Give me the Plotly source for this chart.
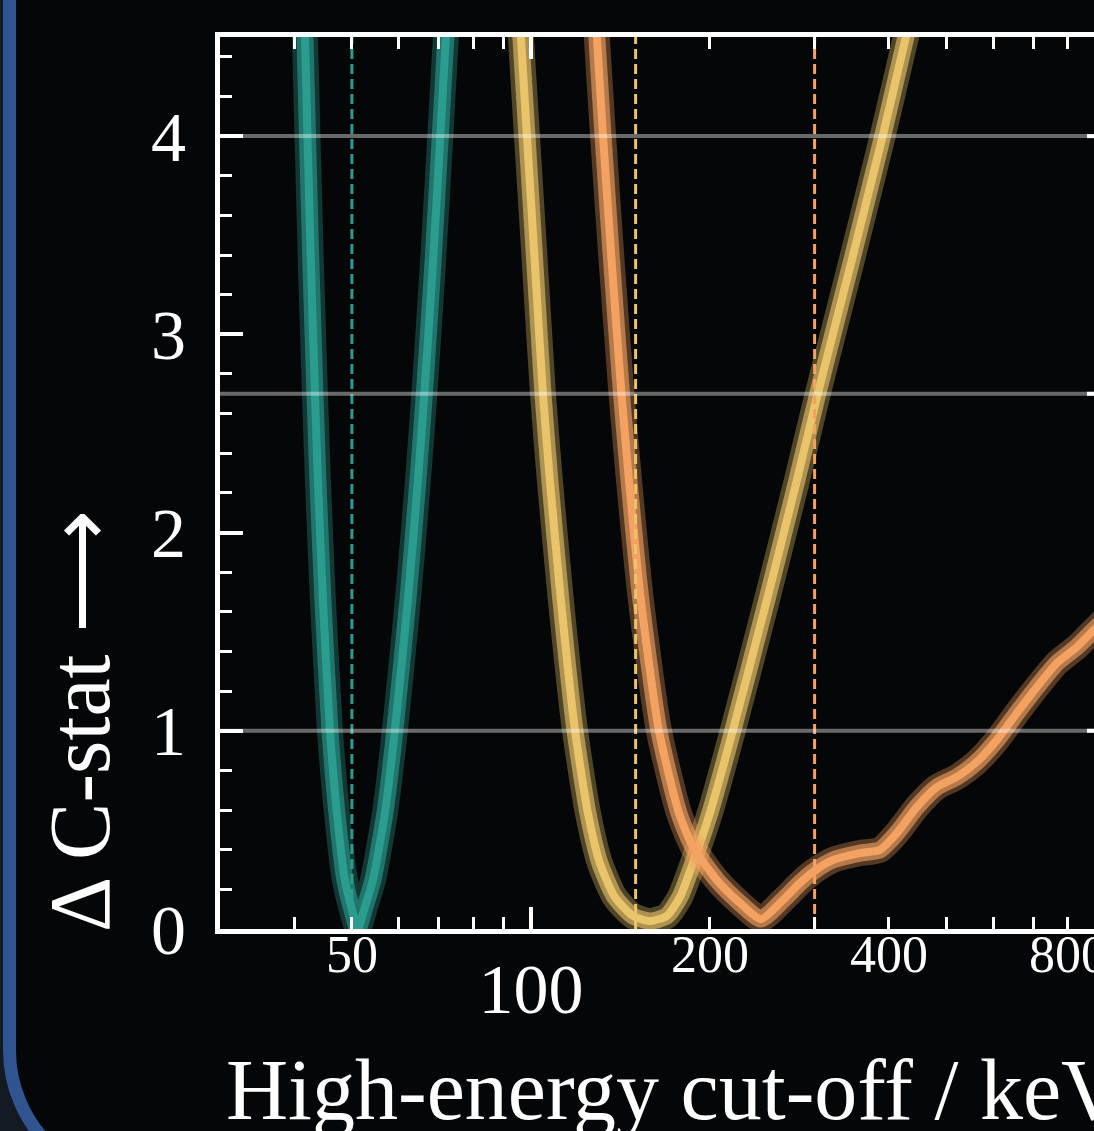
import math
import plotly.graph_objects as go

# ---------------- data ----------------
teal_x = [41.4, 41.69, 42.09, 42.66, 43.33, 43.83, 44.69, 45.92, 47.18, 48.66, 50.39, 51.17,
          52.58, 54.24, 56.82, 59.06, 62.11, 64.57, 66.21, 68.42, 70.43, 71.95, 72.6]
teal_y = [4.70, 4.50, 4.006, 3.355, 2.704, 2.265, 1.660, 1.004, 0.585, 0.247, 0.061, 0.0,
          0.111, 0.247, 0.585, 1.004, 1.660, 2.265, 2.704, 3.355, 4.006, 4.50, 4.70]

yellow_x = [95.4, 96.2, 98.46, 101.56, 104.76, 107.6, 112.3, 118.6, 124.7, 130.6, 138.4, 148.4, 158.5, 169.3,
            178.1, 187.3, 200.0, 218.7, 249.4, 280.2, 303.9, 345.2, 390.9, 427.2, 443.0]
yellow_y = [4.70, 4.50, 4.006, 3.355, 2.704, 2.265, 1.660, 1.004, 0.585, 0.333, 0.161, 0.066, 0.040, 0.066,
            0.161, 0.333, 0.585, 1.004, 1.660, 2.265, 2.704, 3.355, 4.006, 4.50, 4.70]

orange_x = [128.0, 129.1, 132.2, 136.8, 142.0, 146.2, 153.1, 164.1, 177.4, 187.3, 205.5, 224.7, 243.7,
            265.4, 283.4, 298.1, 322.0, 357.5, 386.4, 412.6, 445.9, 481.8, 520.5, 562.4, 607.8, 656.9,
            709.6, 766.8, 828.5, 884.9, 950.0]
orange_y = [4.70, 4.50, 4.006, 3.355, 2.704, 2.265, 1.660, 1.004, 0.585, 0.414, 0.247, 0.131, 0.050,
            0.146, 0.232, 0.288, 0.348, 0.383, 0.399, 0.484, 0.616, 0.716, 0.767, 0.843, 0.954, 1.090,
            1.221, 1.342, 1.423, 1.509, 1.60]

best_fit = [50, 150, 300]          # dashed vertical markers (teal, yellow, orange)
ref_levels = [1.0, 2.7, 4.0]       # horizontal reference levels

x_minor_ticks = [40, 50, 60, 70, 80, 90, 200, 300, 400, 500, 600, 700, 800, 900]
x_minor_text = ["", "50", "", "", "", "", "200", "", "400", "", "", "", "800", ""]
x_major_ticks = [100]
x_major_text = ["100"]
y_ticks = [0, 1, 2, 3, 4]

# ---------------- styling ----------------
TEAL, YELLOW, ORANGE = "#2a9d8f", "#e9c46a", "#f4a261"
FONT = "Liberation Serif"
W, H = 1094, 1131
L, R, T, B = 220, 0, 37, 202
PW, PH = W - L - R, H - T - B

def px(xp):
    return (xp - L) / PW

def py(yp):
    return (H - B - yp) / PH

def hex_rgba(h, a):
    h = h.lstrip("#")
    return "rgba(%d,%d,%d,%.3f)" % (int(h[0:2], 16), int(h[2:4], 16), int(h[4:6], 16), a)

fig = go.Figure()

curves = [(teal_x, teal_y, TEAL), (yellow_x, yellow_y, YELLOW), (orange_x, orange_y, ORANGE)]
for xs, ys, col in curves:
    for w, a in [(26, 0.33), (17, 0.62), (8, 1.0)]:
        fig.add_trace(go.Scatter(x=xs, y=ys, mode="lines",
                                 line=dict(color=hex_rgba(col, a), width=w, shape="spline", smoothing=0.6),
                                 hoverinfo="skip", showlegend=False))

for xv, col in zip(best_fit, [TEAL, YELLOW, ORANGE]):
    fig.add_trace(go.Scatter(x=[xv, xv], y=[0, 4.5], mode="lines", xaxis="x2",
                             line=dict(color=col, width=3, dash="10px,5px"),
                             hoverinfo="skip", showlegend=False))

# horizontal reference lines
shapes = []
for lv in ref_levels:
    shapes.append(dict(type="line", xref="paper", yref="y", x0=0, x1=1, y0=lv, y1=lv,
                       line=dict(color="rgba(255,255,255,0.40)", width=4), layer="above"))
    shapes.append(dict(type="line", xref="paper", yref="y", x0=px(1087), x1=1.01, y0=lv, y1=lv,
                       line=dict(color="white", width=4), layer="above"))

# blue rounded frame (decoration)
k = 0.5523
Rr = 133
xl, yb, yc = 9.5, 1183, 1050
path = ("M %f,%f L %f,%f C %f,%f %f,%f %f,%f L %f,%f L %f,%f Z" % (
    px(xl), py(-40), px(xl), py(yc),
    px(xl), py(yc + k * Rr), px(xl + Rr - k * Rr), py(yb), px(xl + Rr), py(yb),
    px(1300), py(yb), px(1300), py(-40)))
shapes.append(dict(type="path", xref="paper", yref="paper", path=path,
                   fillcolor="#050607", line=dict(color="#2f5490", width=13), layer="below"))

x_range = [math.log10(30), math.log10(30) + PW / 594.6]

annotations = [
    dict(text="High-energy cut-off / keV", xref="paper", yref="paper", x=px(224), y=py(1090),
         xanchor="left", yanchor="middle", showarrow=False, font=dict(family=FONT, size=86, color="white")),
    dict(text="Δ C-stat ⟶", xref="paper", yref="paper", x=px(80), y=py(934),
         xanchor="center", yanchor="bottom", textangle=-90, showarrow=False,
         font=dict(family=FONT, size=86, color="white")),
]

fig.update_layout(
    width=W, height=H,
    margin=dict(l=L, r=R, t=T, b=B, pad=0, autoexpand=False),
    paper_bgcolor="#141a22", plot_bgcolor="rgba(0,0,0,0)",
    shapes=shapes, annotations=annotations, showlegend=False,
    xaxis=dict(type="log", range=x_range, tickmode="array", tickvals=x_minor_ticks, ticktext=x_minor_text,
               ticks="inside", ticklen=12, tickwidth=3, tickcolor="white",
               showline=True, linewidth=5, linecolor="white", mirror="ticks",
               showgrid=False, zeroline=False, ticklabeloverflow="allow", automargin=False,
               tickfont=dict(family=FONT, size=52, color="white"), ticklabelstandoff=-24),
    xaxis2=dict(type="log", range=x_range, overlaying="x", anchor="y", side="bottom",
                tickmode="array", tickvals=x_major_ticks, ticktext=x_major_text,
                ticks="inside", ticklen=22, tickwidth=4, tickcolor="white",
                showline=True, linewidth=5, linecolor="white", mirror="ticks",
                showgrid=False, zeroline=False, ticklabeloverflow="allow", automargin=False,
                tickfont=dict(family=FONT, size=70, color="white"), ticklabelstandoff=-5),
    yaxis=dict(range=[0, 4.5], tickmode="array", tickvals=y_ticks,
               ticks="inside", ticklen=23, tickwidth=4, tickcolor="white",
               minor=dict(tick0=0, dtick=0.2, ticks="inside", ticklen=12, tickwidth=3, tickcolor="white", showgrid=False),
               showline=True, linewidth=5, linecolor="white", mirror=False,
               showgrid=False, zeroline=False, automargin=False,
               tickfont=dict(family=FONT, size=70, color="white"), ticklabelstandoff=15),
)

fig.write_html("out.html")
